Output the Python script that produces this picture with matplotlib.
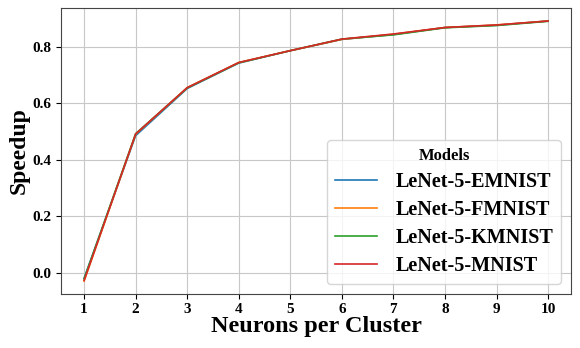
import matplotlib
matplotlib.use("Agg")
import matplotlib.pyplot as plt

plt.rcParams['font.family'] = ['Liberation Serif', 'DejaVu Serif']
plt.rcParams['font.weight'] = 'bold'

neurons = [1, 2, 3, 4, 5, 6, 7, 8, 9, 10]
emnist = [-0.020, 0.485, 0.652, 0.742, 0.786, 0.826, 0.843, 0.868, 0.876, 0.891]
fmnist = [-0.030, 0.490, 0.655, 0.744, 0.786, 0.826, 0.844, 0.868, 0.877, 0.891]
kmnist = [-0.022, 0.492, 0.654, 0.743, 0.786, 0.827, 0.842, 0.867, 0.875, 0.890]
mnist = [-0.028, 0.491, 0.655, 0.744, 0.786, 0.827, 0.845, 0.868, 0.877, 0.891]
labels = ['LeNet-5-EMNIST', 'LeNet-5-FMNIST', 'LeNet-5-KMNIST', 'LeNet-5-MNIST']
colors = ['#1f77b4', '#ff7f0e', '#2ca02c', '#d62728']

fig, ax = plt.subplots(figsize=(5.8, 3.48), dpi=100)
for s, l, c in zip([emnist, fmnist, kmnist, mnist], labels, colors):
    ax.plot(neurons, s, label=l, color=c, linewidth=1.2)

ax.set_xticks(neurons)
ax.grid(True, color='#c8c8c8', linewidth=0.8)
for sp in ax.spines.values():
    sp.set_color('#444444')
ax.tick_params(labelsize=11, colors='black', pad=3)
for t in ax.get_xticklabels() + ax.get_yticklabels():
    t.set_fontweight('bold')
ax.set_xlabel('Neurons per Cluster', fontsize=17.5, fontweight='bold', labelpad=0)
ax.set_ylabel('Speedup', fontsize=17, fontweight='bold', labelpad=2)
leg = ax.legend(title='Models', loc='lower right',
                title_fontproperties={'weight': 'bold', 'size': 12,
                                      'family': 'Liberation Serif'},
                prop={'weight': 'bold', 'size': 14.5, 'family': 'Liberation Serif'},
                handlelength=2.1, handletextpad=0.9, labelspacing=0.4,
                borderpad=0.4)
fig.subplots_adjust(left=0.105, right=0.985, top=0.977, bottom=0.155)
fig.savefig('out.png', dpi=100)
